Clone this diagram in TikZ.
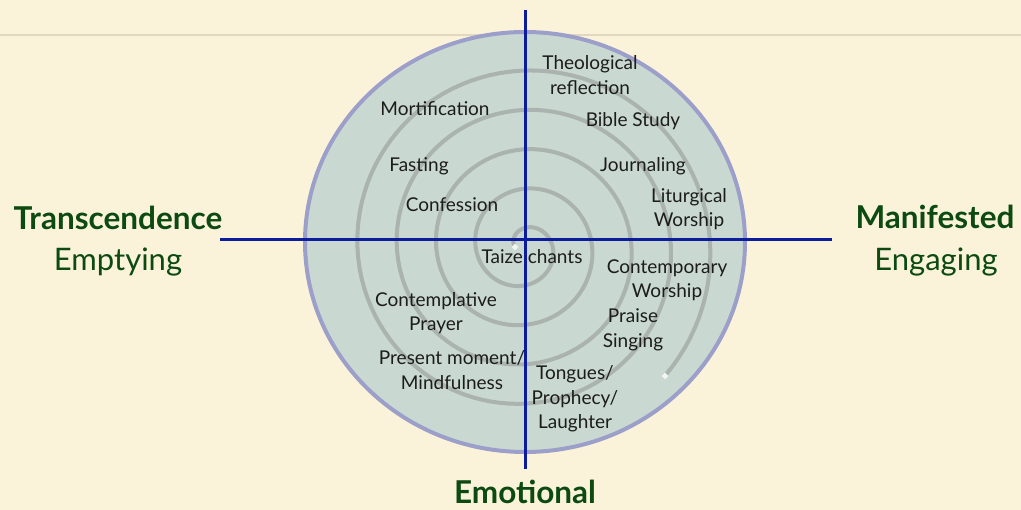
\documentclass[tikz,border=0pt]{standalone}
\usepackage{fontspec}
\setmainfont{Lato}
\usetikzlibrary{shapes.geometric}

\definecolor{paper}{HTML}{FBF3D9}
\definecolor{rule}{HTML}{E2D8BF}
\definecolor{disc}{HTML}{C9D8D0}
\definecolor{rim}{HTML}{9C9FC9}
\definecolor{coil}{HTML}{AAB3AF}
\definecolor{axisblue}{HTML}{0B1C9C}
\definecolor{pine}{HTML}{0C4A12}
\definecolor{ink}{HTML}{1C1C1C}

\tikzset{
  practice/.style={align=center, inner sep=0pt, text=ink,
    font=\fontsize{19}{24.5}\selectfont},
  pole/.style={inner sep=0pt, anchor=base, text=pine, font=\fontsize{31.5}{36}\selectfont\bfseries},
  polesub/.style={inner sep=0pt, anchor=base, text=pine, font=\fontsize{31}{36}\selectfont},
  axis/.style={draw=axisblue, line width=3pt},
  tip/.style={diamond, fill=white!75!disc, inner sep=0pt, minimum size=7pt},
}

\begin{document}
\begin{tikzpicture}[x=1pt, y=-1pt]
\useasboundingbox[fill=paper] (0,0) rectangle (1021,510);
\draw[rule, line width=2pt] (0,35) -- (1021,35);
% the disc
\draw[fill=disc, draw=rim, line width=4pt] (525,242) ellipse[x radius=220, y radius=210];
% the spiral
\draw[coil, line width=4pt] plot[domain=180:1842, samples=500, variable=\t]
  ({524+(9+0.10944*(\t-180))*cos(\t)}, {247+(9+0.10944*(\t-180))*sin(\t)});
\node[tip] (inner) at (515,247) {};
\node[tip] (outer) at (665,376) {};
% axes
\coordinate (north) at (525,10);
\coordinate (south) at (525,469);
\coordinate (west) at (220,240);
\coordinate (east) at (832,240);
\draw[axis] (north) -- (south);
\draw[axis] (west) -- (east);
% practices
\node[practice] (theo) at (590,75) {Theological\\reflection};
\node[practice] (mort) at (435,109) {Mortification};
\node[practice] (bible) at (633,121) {Bible Study};
\node[practice] (fast) at (419,166) {Fasting};
\node[practice] (journal) at (643,166) {Journaling};
\node[practice] (confess) at (452,205) {Confession};
\node[practice] (liturgy) at (689,209) {Liturgical\\Worship};
\node[practice] (taize) at (532,257) {Taize chants};
\node[practice] (contemp) at (667,280) {Contemporary\\Worship};
\node[practice] (prayer) at (436,313) {Contemplative\\Prayer};
\node[practice] (praise) at (633,330) {Praise\\Singing};
\node[practice] (mindful) at (452,370) {Present moment/\\Mindfulness};
\node[practice] (tongues) at (575,399) {Tongues/\\Prophecy/\\Laughter};
% poles
\node[pole] (trans) at (118,230) {Transcendence};
\node[polesub] (empty) at (118,271) {Emptying};
\node[pole] (manif) at (935,229) {Manifested};
\node[polesub] (engage) at (936,271) {Engaging};
\node[pole] (emot) at (525,504) {Emotional};
\end{tikzpicture}
\end{document}
